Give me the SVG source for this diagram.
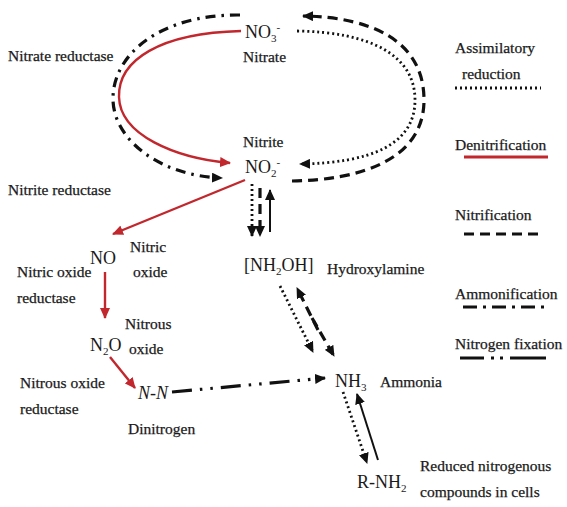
<svg xmlns="http://www.w3.org/2000/svg" width="567" height="507" viewBox="0 0 567 507">
<style>
text{font-family:"Liberation Serif","DejaVu Serif","Times New Roman",serif;fill:#1a1a1a}
.lbl{font-size:15.5px;stroke:#1a1a1a;stroke-width:0.25}
.chem{font-size:18px}
.sub{font-size:11px}
.red{fill:none;stroke:#c1272d;stroke-width:2.4}
.dot{fill:none;stroke:#111;stroke-width:2.8;stroke-dasharray:2 3;stroke-linecap:butt}
.dash{fill:none;stroke:#111;stroke-width:3.2;stroke-dasharray:10 6}
.dd{fill:none;stroke:#111;stroke-width:3.2;stroke-dasharray:10 6 2.5 6}
.fix{fill:none;stroke:#111;stroke-width:3.2;stroke-dasharray:20 8 2.5 8 2.5 8}
.solid{fill:none;stroke:#111;stroke-width:2}
</style>
<defs>
<marker id="ak" markerWidth="12" markerHeight="10" refX="10" refY="5" orient="auto" markerUnits="userSpaceOnUse"><path d="M0,0 L11,5 L0,10 Z" fill="#111"/></marker>
<marker id="ar" markerWidth="12" markerHeight="10" refX="10" refY="5" orient="auto" markerUnits="userSpaceOnUse"><path d="M0,0 L11,5 L0,10 Z" fill="#c1272d"/></marker>
</defs>
<g id="connectors">
<path class="dd" d="M240,15 C160,14 112,55 113,100 C114,140 160,176 222,178" marker-end="url(#ak)"/>
<path class="red" d="M241,31 C160,33 118,60 119,97 C120,135 175,158 230,163" marker-end="url(#ar)"/>
<path class="dash" d="M292,181 C360,180 424,160 424,100 C424,40 370,17 303,16" marker-end="url(#ak)"/>
<path class="dot" d="M297,31 C370,32 415,55 415,100 C415,145 370,163 300,164" marker-end="url(#ak)"/>
<path class="red" d="M245,180 L113,234" marker-end="url(#ar)"/>
<path class="red" d="M105,272 L105,318" marker-end="url(#ar)"/>
<path class="red" d="M110,357 L135,388" marker-end="url(#ar)"/>
<path class="fix" d="M172,392 L325,378" marker-end="url(#ak)"/>
<path class="dot" d="M252,184 L252,236" marker-end="url(#ak)"/>
<path class="dash" d="M260,188 L260,236" marker-end="url(#ak)"/>
<path class="solid" d="M270,232 L270,190" marker-end="url(#ak)"/>
<path class="dot" d="M280,286 L313,352" marker-end="url(#ak)"/>
<path class="dash" d="M312,318 L334,356" marker-end="url(#ak)"/>
<path class="dash" d="M318,330 L297,288" marker-end="url(#ak)"/>
<path class="dot" d="M343,392 L367,463" marker-end="url(#ak)"/>
<path class="solid" d="M378,460 L357,394" marker-end="url(#ak)"/>
<path class="dot" d="M455,88 L541,88"/>
<path d="M464,157 L548,157" stroke="#c1272d" stroke-width="3"/>
<path class="dash" d="M464,234 L541,234"/>
<path class="dd" d="M463,307 L546,307" style="stroke-dasharray:14 6 3 6"/>
<path class="fix" d="M460,358 L546,358" style="stroke-dasharray:24 7 3 6 3 7 40"/>
</g>
<g id="nitrate"><text class="chem" x="245" y="38">NO<tspan class="sub" dy="4">3</tspan><tspan class="sub" dy="-11">-</tspan></text><text class="lbl" x="243" y="62">Nitrate</text></g>
<g id="nitrite"><text class="lbl" x="243" y="147">Nitrite</text><text class="chem" x="245" y="173">NO<tspan class="sub" dy="4">2</tspan><tspan class="sub" dy="-11">-</tspan></text></g>
<g id="nitrate-reductase"><text class="lbl" x="8" y="61">Nitrate reductase</text></g>
<g id="nitrite-reductase"><text class="lbl" x="8" y="195">Nitrite reductase</text></g>
<g id="no"><text class="chem" x="90" y="264">NO</text><text class="lbl" x="130" y="252">Nitric</text><text class="lbl" x="133" y="277">oxide</text></g>
<g id="no-reductase"><text class="lbl" x="17" y="277">Nitric oxide</text><text class="lbl" x="17" y="303">reductase</text></g>
<g id="n2o"><text class="chem" x="90" y="351">N<tspan class="sub" dy="4">2</tspan><tspan dy="-4">O</tspan></text><text class="lbl" x="125" y="329">Nitrous</text><text class="lbl" x="129" y="354">oxide</text></g>
<g id="n2o-reductase"><text class="lbl" x="20" y="388">Nitrous oxide</text><text class="lbl" x="20" y="414">reductase</text></g>
<g id="dinitrogen"><text class="chem" x="138" y="399" font-style="italic">N-N</text><text class="lbl" x="128" y="434">Dinitrogen</text></g>
<g id="hydroxylamine"><text class="chem" x="244" y="271">[NH<tspan class="sub" dy="4">2</tspan><tspan dy="-4">OH]</tspan></text><text class="lbl" x="327" y="274">Hydroxylamine</text></g>
<g id="ammonia"><text class="chem" x="335" y="387">NH<tspan class="sub" dy="4">3</tspan></text><text class="lbl" x="380" y="387">Ammonia</text></g>
<g id="rnh2"><text class="chem" x="357" y="488">R-NH<tspan class="sub" dy="4">2</tspan></text><text class="lbl" x="420" y="471">Reduced nitrogenous</text><text class="lbl" x="420" y="497">compounds in cells</text></g>
<g id="legend">
<text class="lbl" x="455" y="53">Assimilatory</text><text class="lbl" x="462" y="79">reduction</text>
<text class="lbl" x="455" y="150">Denitrification</text>
<text class="lbl" x="455" y="220">Nitrification</text>
<text class="lbl" x="455" y="299">Ammonification</text>
<text class="lbl" x="455" y="349">Nitrogen fixation</text>
</g>
</svg>
